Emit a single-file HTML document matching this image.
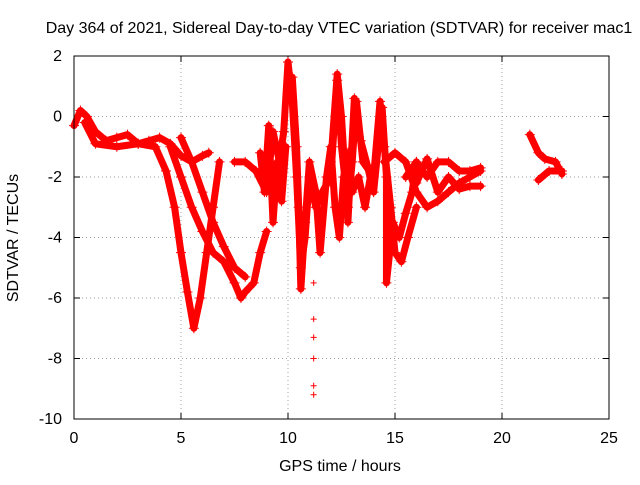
<!DOCTYPE html>
<html><head><meta charset="utf-8"><style>
body{margin:0;background:#fff;}
svg text{font-family:"Liberation Sans",sans-serif;font-size:16px;fill:#000;}
</style></head><body>
<svg id="chart" width="640" height="480" xmlns="http://www.w3.org/2000/svg">
<rect width="640" height="480" fill="#fff"/>
<text x="339" y="33" text-anchor="middle">Day 364 of 2021, Sidereal Day-to-day VTEC variation (SDTVAR) for receiver mac1</text>
<text x="340" y="471" text-anchor="middle">GPS time / hours</text>
<text transform="translate(18,238) rotate(-90)" text-anchor="middle">SDTVAR / TECUs</text>
<g id="grid"></g><g id="ticks"></g><g id="marks"></g>
<rect x="74" y="56" width="535" height="363" fill="none" stroke="#000" stroke-width="1"/>
</svg>
<script>
const xTicks=[0,5,10,15,20,25];
const yTicks=[2,0,-2,-4,-6,-8,-10];
const trackA=[[0,-0.3],[0.3,0.2],[0.6,0],[1,-0.5],[1.5,-0.8],[2,-0.7],[2.5,-0.6],[3,-0.9],[3.5,-0.8],[4,-0.7],[4.5,-0.9],[5,-1.3],[5.5,-1.5],[6,-1.3],[6.3,-1.2]];
const trackB=[[0.5,-0.2],[1,-0.9],[2,-1.0],[3,-0.9],[3.8,-1.0],[4.3,-1.8],[4.7,-3],[5,-4.5],[5.3,-5.8],[5.6,-7],[5.9,-6],[6.2,-4.5],[6.5,-3],[6.8,-1.5]];
const trackC=[[4.5,-1.0],[5,-2],[5.5,-3],[6,-3.8],[6.5,-4.5],[7,-4.8],[7.5,-5.5],[7.8,-6],[8,-5.8],[8.4,-5.5],[8.7,-4.5],[9,-3.8]];
const trackD=[[5,-0.7],[5.5,-1.5],[6,-2.5],[6.5,-3.5],[7,-4.3],[7.5,-5],[8,-5.3]];
const trackE=[[7.5,-1.5],[8,-1.5],[8.5,-1.8],[9,-2.5],[9.3,-0.5],[9.6,-1.5],[9.8,-0.5],[10,1.8],[10.2,0.5],[10.4,-2],[10.6,-5],[10.8,-4],[11,-2],[11.3,-3],[11.6,-2.5],[12,-2],[12.3,1.2],[12.5,-1],[12.8,-3],[13,-1.5],[13.2,0.5],[13.5,-1.5],[14,-2],[14.3,0.5],[14.5,-1],[14.8,-3],[15,-4.5],[15.3,-4.8],[15.6,-4],[16,-3]];
const trackJ=[[8.7,-1.2],[8.9,-2.5],[9.1,-0.3],[9.3,-3.5],[9.5,-1.5],[9.7,-2.8],[9.9,-1.0]];
const trackK=[[10.2,1.3],[10.4,-1],[10.5,-3],[10.6,-5.7],[10.8,-3.5],[11.0,-1.5],[11.3,-2.5],[11.5,-4.5],[11.8,-2],[12.0,-1.0],[12.2,-3],[12.4,-4.0],[12.6,-2],[12.8,-1.2],[13.0,-2.5],[13.3,-2.0],[13.6,-3.0],[13.9,-1.8]];
const trackL=[[12.0,-1.5],[12.3,1.4],[12.5,0.0],[12.8,-3.5],[13.1,0.6],[13.4,-0.8],[13.7,-1.6],[14.0,-2.5],[14.4,0.3],[14.6,-2],[14.6,-5.5],[14.9,-3.5],[15.2,-4],[15.5,-3.2],[15.8,-2.5],[16.0,-1.5]];
const trackM=[[16,-2.2],[16.5,-1.4],[17,-2.5],[17.5,-2.0],[18,-2.4],[18.5,-2.3],[19,-2.3]];
const trackSpike=[[11.2,-5.5],[11.2,-6.7],[11.2,-7.3],[11.2,-8],[11.2,-8.9],[11.2,-9.2]];
const trackF=[[14.5,-1.5],[15,-1.2],[15.5,-1.5],[16,-2.5],[16.5,-3],[17,-2.8],[17.5,-2.5],[18,-2.2],[18.5,-2],[19,-1.8]];
const trackG=[[15.5,-2],[16,-1.5],[16.5,-2],[17,-1.5],[17.5,-1.5],[18,-1.8],[18.5,-1.8],[19,-1.7]];
const trackH=[[21.3,-0.6],[21.7,-1.2],[22,-1.4],[22.5,-1.5],[22.8,-1.9]];
const trackI=[[21.7,-2.1],[22.2,-1.8],[22.8,-1.8]];
const tracks=[trackA,trackB,trackC,trackD,trackE,trackJ,trackK,trackL,trackM,trackF,trackG,trackH,trackI];
const NS="http://www.w3.org/2000/svg";
const X0=74,X1=609,Y0=419,Y1=56;
function sx(v){return X0+(v-0)/(25-0)*(X1-X0);}
function sy(v){return Y0-(v+10)/(12)*(Y0-Y1);}
const grid=document.getElementById('grid'),ticks=document.getElementById('ticks'),marks=document.getElementById('marks');
function mk(t,a,p){const e=document.createElementNS(NS,t);for(const k in a)e.setAttribute(k,a[k]);p.appendChild(e);return e;}
xTicks.forEach(v=>{const x=sx(v);
 if(v>0&&v<25){const g=mk('line',{x1:x,x2:x,y1:Y1,y2:Y0,stroke:'#a0a0a0','stroke-dasharray':'1,3'},grid);
 
 }
 const t=mk('text',{x:x,y:443,'text-anchor':'middle'},ticks);t.textContent=v;
 
 
 mk('line',{x1:x,x2:x,y1:Y0,y2:Y0-6,stroke:'#000'},ticks);mk('line',{x1:x,x2:x,y1:Y1,y2:Y1+6,stroke:'#000'},ticks);});
yTicks.forEach(v=>{const y=sy(v);
 if(v>-10&&v<2){const g=mk('line',{x1:X0,x2:X1,y1:y,y2:y,stroke:'#a0a0a0','stroke-dasharray':'1,3'},grid);
 
 }
 const t=mk('text',{x:62,y:y+5,'text-anchor':'end'},ticks);t.textContent=v;
 
 
 mk('line',{x1:X0,x2:X0+6,y1:y,y2:y,stroke:'#000'},ticks);mk('line',{x1:X1,x2:X1-6,y1:y,y2:y,stroke:'#000'},ticks);});
tracks.forEach((tr,i)=>{
 const pl=mk('polyline',{points:tr.map(p=>sx(p[0])+','+sy(p[1])).join(' '),fill:'none',stroke:'#f00','stroke-width':7,'stroke-linejoin':'round','stroke-linecap':'round'},marks);
 
 
 tr.forEach(p=>{const x=sx(p[0]),y=sy(p[1]);
  const m=mk('path',{d:`M${x-5},${y}H${x+5}M${x},${y-5}V${y+5}`,stroke:'#f00','stroke-width':1},marks);
  
  });
});
trackSpike.forEach(p=>{const x=sx(p[0]),y=sy(p[1]);
 const m=mk('path',{d:`M${x-3},${y}H${x+3}M${x},${y-3}V${y+3}`,stroke:'#f00','stroke-width':1},marks);
 
 });
</script>
</body></html>
